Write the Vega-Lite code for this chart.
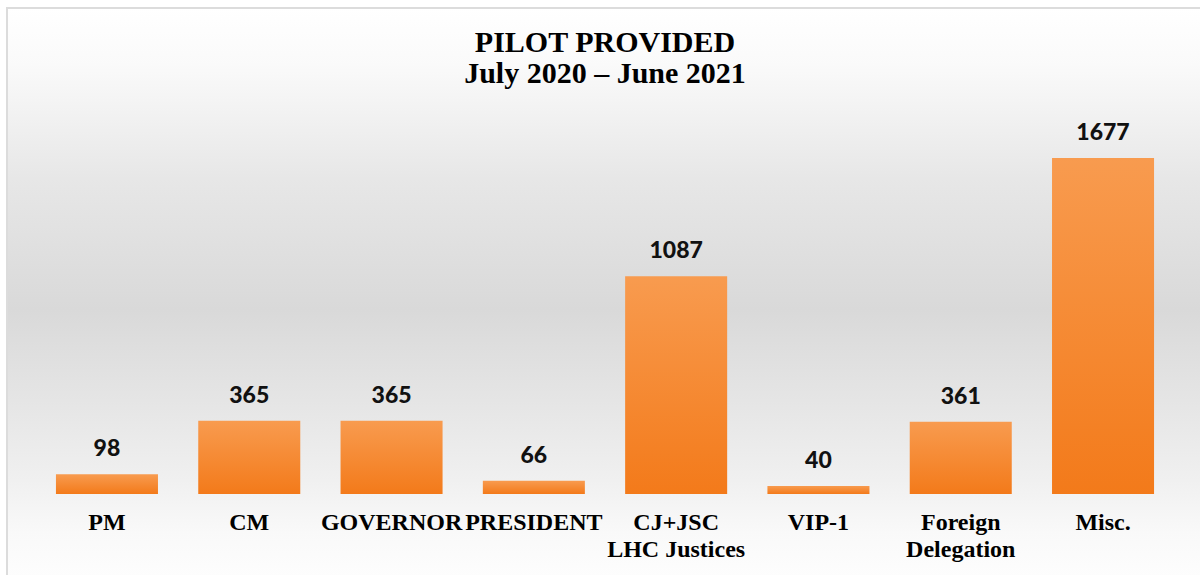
{
  "$schema": "https://vega.github.io/schema/vega-lite/v6.json",
  "autosize": {"type": "none"},
  "padding": {"left": 7, "top": 8, "right": 0, "bottom": 0},
  "width": 1196,
  "height": 569,
  "background": "#ffffff",
  "title": {
    "text": ["PILOT PROVIDED", "July 2020 – June 2021"],
    "font": "Liberation Serif",
    "fontSize": 30,
    "fontWeight": "bold",
    "color": "#000000",
    "anchor": "middle",
    "baseline": "top",
    "lineHeight": 31,
    "offset": -81
  },
  "data": {
    "values": [
      {"category": "PM", "pilots": 98},
      {"category": "CM", "pilots": 365},
      {"category": "GOVERNOR", "pilots": 365},
      {"category": "PRESIDENT", "pilots": 66},
      {"category": "CJ+JSC\nLHC Justices", "pilots": 1087},
      {"category": "VIP-1", "pilots": 40},
      {"category": "Foreign\nDelegation", "pilots": 361},
      {"category": "Misc.", "pilots": 1677}
    ]
  },
  "encoding": {
    "x": {
      "field": "category",
      "type": "nominal",
      "sort": null,
      "scale": {"paddingInner": 0.283, "paddingOuter": 0.344},
      "axis": {
        "title": null,
        "orient": "bottom",
        "offset": -83,
        "domain": false,
        "ticks": false,
        "labelAngle": 0,
        "labelExpr": "split(datum.value, '\\n')",
        "labelFont": "Liberation Serif",
        "labelFontSize": 24,
        "labelFontWeight": "bold",
        "labelColor": "#000000",
        "labelLineHeight": 27,
        "labelPadding": 16,
        "labelOverlap": false,
        "labelBound": false,
        "labelFlush": false,
        "labelLimit": 0
      }
    },
    "y": {
      "field": "pilots",
      "type": "quantitative",
      "scale": {"domain": [-414.3, 2425.6], "nice": false},
      "axis": null
    }
  },
  "layer": [
    {
      "mark": {
        "type": "bar",
        "color": {
          "gradient": "linear",
          "x1": 0, "y1": 0, "x2": 0, "y2": 1,
          "stops": [
            {"offset": 0, "color": "#f89b4f"},
            {"offset": 1, "color": "#f37a1a"}
          ]
        }
      }
    },
    {
      "mark": {
        "type": "text",
        "font": "Lato",
        "fontSize": 23,
        "fontWeight": 900,
        "color": "#111111",
        "baseline": "alphabetic",
        "dy": -18
      },
      "encoding": {"text": {"field": "pilots", "type": "quantitative"}}
    }
  ],
  "config": {
    "view": {
      "fill": {
        "gradient": "linear",
        "x1": 0, "y1": 0, "x2": 0, "y2": 1,
        "stops": [
          {"offset": 0, "color": "#ffffff"},
          {"offset": 0.1, "color": "#fafafa"},
          {"offset": 0.3, "color": "#e7e7e7"},
          {"offset": 0.53, "color": "#d9d9d9"},
          {"offset": 0.69, "color": "#e5e5e5"},
          {"offset": 0.83, "color": "#f0f0f0"},
          {"offset": 0.92, "color": "#f9f9f9"},
          {"offset": 1, "color": "#fdfdfd"}
        ]
      },
      "stroke": "#dcdcdc",
      "strokeWidth": 2
    }
  }
}
